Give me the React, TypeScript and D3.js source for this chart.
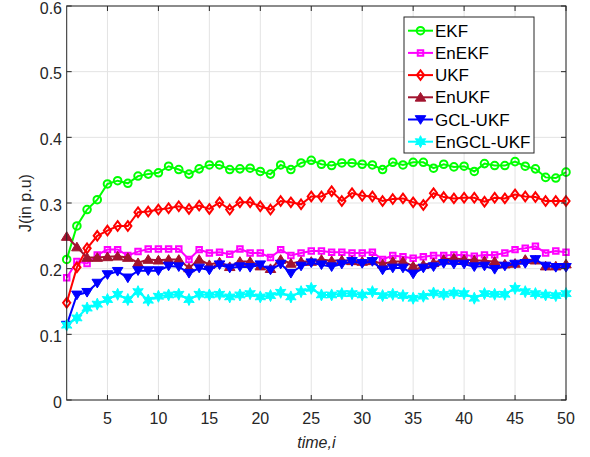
import * as d3 from "d3";

const iterations = d3.range(1, 51);

const ekf = [0.214, 0.265, 0.29, 0.305, 0.329, 0.334, 0.33, 0.341, 0.344, 0.346, 0.356, 0.351, 0.344, 0.352, 0.358, 0.358, 0.351, 0.352, 0.353, 0.348, 0.344, 0.358, 0.351, 0.361, 0.365, 0.359, 0.357, 0.361, 0.361, 0.359, 0.358, 0.351, 0.362, 0.358, 0.362, 0.362, 0.353, 0.359, 0.355, 0.356, 0.348, 0.36, 0.357, 0.357, 0.363, 0.356, 0.352, 0.339, 0.338, 0.347];
const enekf = [0.186, 0.211, 0.208, 0.221, 0.229, 0.229, 0.22, 0.226, 0.23, 0.23, 0.23, 0.23, 0.214, 0.229, 0.224, 0.225, 0.222, 0.23, 0.224, 0.224, 0.217, 0.229, 0.22, 0.224, 0.227, 0.227, 0.225, 0.225, 0.224, 0.224, 0.225, 0.214, 0.22, 0.218, 0.216, 0.218, 0.22, 0.22, 0.221, 0.221, 0.219, 0.221, 0.221, 0.224, 0.229, 0.231, 0.234, 0.224, 0.227, 0.225];
const ukf = [0.148, 0.202, 0.231, 0.25, 0.258, 0.265, 0.265, 0.286, 0.287, 0.29, 0.292, 0.295, 0.291, 0.296, 0.291, 0.301, 0.29, 0.301, 0.301, 0.295, 0.29, 0.303, 0.301, 0.298, 0.31, 0.31, 0.318, 0.303, 0.315, 0.311, 0.31, 0.303, 0.306, 0.307, 0.301, 0.297, 0.315, 0.309, 0.307, 0.308, 0.308, 0.302, 0.308, 0.307, 0.313, 0.31, 0.309, 0.303, 0.303, 0.303];
const enukf = [0.249, 0.233, 0.217, 0.217, 0.218, 0.219, 0.217, 0.209, 0.214, 0.213, 0.214, 0.214, 0.201, 0.214, 0.206, 0.21, 0.203, 0.211, 0.211, 0.204, 0.2, 0.214, 0.208, 0.211, 0.211, 0.214, 0.212, 0.213, 0.212, 0.211, 0.212, 0.207, 0.211, 0.211, 0.204, 0.206, 0.209, 0.214, 0.216, 0.214, 0.213, 0.212, 0.211, 0.207, 0.208, 0.214, 0.213, 0.204, 0.204, 0.207];
const gclUkf = [0.114, 0.16, 0.164, 0.178, 0.191, 0.196, 0.186, 0.197, 0.197, 0.197, 0.204, 0.203, 0.193, 0.201, 0.198, 0.206, 0.201, 0.203, 0.202, 0.206, 0.198, 0.207, 0.193, 0.204, 0.209, 0.206, 0.203, 0.207, 0.211, 0.208, 0.211, 0.198, 0.201, 0.201, 0.192, 0.201, 0.203, 0.208, 0.207, 0.207, 0.203, 0.204, 0.199, 0.204, 0.207, 0.208, 0.214, 0.204, 0.202, 0.202];
const enGclUkf = [0.114, 0.125, 0.14, 0.146, 0.153, 0.161, 0.153, 0.165, 0.152, 0.158, 0.16, 0.161, 0.153, 0.161, 0.16, 0.161, 0.157, 0.16, 0.162, 0.157, 0.159, 0.164, 0.157, 0.165, 0.17, 0.16, 0.16, 0.162, 0.162, 0.16, 0.165, 0.159, 0.161, 0.159, 0.155, 0.158, 0.163, 0.161, 0.163, 0.162, 0.155, 0.162, 0.161, 0.161, 0.17, 0.165, 0.162, 0.16, 0.159, 0.162];

const xTicks = [5, 10, 15, 20, 25, 30, 35, 40, 45, 50];
const yTicks = [0, 0.1, 0.2, 0.3, 0.4, 0.5, 0.6];

// 6-pointed star like matlab's hexagram
const hexagram = {
  draw(ctx: any, size: number) {
    const R = Math.sqrt(size) * 0.75;
    const r = R * 0.5;
    for (let k = 0; k < 12; k++) {
      const a = -Math.PI / 2 + (k * Math.PI) / 6;
      const rr = k % 2 === 0 ? R : r;
      if (k === 0) ctx.moveTo(rr * Math.cos(a), rr * Math.sin(a));
      else ctx.lineTo(rr * Math.cos(a), rr * Math.sin(a));
    }
    ctx.closePath();
  },
};

const triDown = {
  draw(ctx: any, size: number) {
    const h = Math.sqrt(size) * 0.6;
    ctx.moveTo(0, h);
    ctx.lineTo(h * 1.1, -h * 0.8);
    ctx.lineTo(-h * 1.1, -h * 0.8);
    ctx.closePath();
  },
};

const triUp = {
  draw(ctx: any, size: number) {
    const h = Math.sqrt(size) * 0.6;
    ctx.moveTo(0, -h);
    ctx.lineTo(h * 1.1, h * 0.8);
    ctx.lineTo(-h * 1.1, h * 0.8);
    ctx.closePath();
  },
};

const diamond = {
  draw(ctx: any, size: number) {
    const h = Math.sqrt(size) * 0.6;
    ctx.moveTo(0, -h);
    ctx.lineTo(h * 0.75, 0);
    ctx.lineTo(0, h);
    ctx.lineTo(-h * 0.75, 0);
    ctx.closePath();
  },
};

const series = [
  { name: "EKF", values: ekf, color: "#00ff00", symbol: d3.symbolCircle, size: 45, filled: false },
  { name: "EnEKF", values: enekf, color: "#ff00ff", symbol: d3.symbolSquare, size: 30, filled: false },
  { name: "UKF", values: ukf, color: "#ff0000", symbol: diamond, size: 64, filled: false },
  { name: "EnUKF", values: enukf, color: "#a2142f", symbol: triUp, size: 64, filled: true },
  { name: "GCL-UKF", values: gclUkf, color: "#0000ff", symbol: triDown, size: 64, filled: true },
  { name: "EnGCL-UKF", values: enGclUkf, color: "#00ffff", symbol: hexagram, size: 64, filled: true },
];

const W = 590;
const H = 457;
const left = 66.7;
const right = 566;
const top = 6;
const bottom = 400;
const axisColor = "#262626";
const font = "'Liberation Sans', Arial, Helvetica, sans-serif";

export default function App() {
  const x = d3.scaleLinear().domain([1, 50]).range([left, right]);
  const y = d3.scaleLinear().domain([0, 0.6]).range([bottom, top]);
  const line = d3.line<number>().x((_, i) => x(iterations[i])).y((d) => y(d));

  const legendX = 404;
  const legendY = 17;
  const rowH = 22.2;

  return (
    <svg width={W} height={H} style={{ position: "absolute", left: 0, top: 0, background: "#fff" }} fontFamily={font}>
      <rect x={left} y={top} width={right - left} height={bottom - top} fill="#fff" />
      {xTicks.map((t) => (
        <line key={"gx" + t} x1={x(t)} x2={x(t)} y1={top} y2={bottom} stroke="#e3e3e3" strokeWidth={1} />
      ))}
      {yTicks.map((t) => (
        <line key={"gy" + t} x1={left} x2={right} y1={y(t)} y2={y(t)} stroke="#e3e3e3" strokeWidth={1} />
      ))}

      {series.map((s) => (
        <g key={s.name}>
          <path d={line(s.values) ?? ""} fill="none" stroke={s.color} strokeWidth={2} />
          {s.values.map((v, i) => (
            <path
              key={i}
              transform={`translate(${x(iterations[i])},${y(v)})`}
              d={d3.symbol(s.symbol as any, s.size)() ?? ""}
              fill={s.filled ? s.color : "none"}
              stroke={s.color}
              strokeWidth={s.filled ? 1 : 2}
            />
          ))}
        </g>
      ))}

      {/* frame + ticks */}
      <rect x={left} y={top} width={right - left} height={bottom - top} fill="none" stroke={axisColor} strokeWidth={1} />
      {xTicks.map((t) => (
        <g key={"tx" + t}>
          <line x1={x(t)} x2={x(t)} y1={bottom} y2={bottom - 5} stroke={axisColor} />
          <line x1={x(t)} x2={x(t)} y1={top} y2={top + 5} stroke={axisColor} />
          <text x={x(t)} y={424} textAnchor="middle" fontSize={16} fill={axisColor}>
            {t}
          </text>
        </g>
      ))}
      {yTicks.map((t) => (
        <g key={"ty" + t}>
          <line x1={left} x2={left + 5} y1={y(t)} y2={y(t)} stroke={axisColor} />
          <line x1={right} x2={right - 5} y1={y(t)} y2={y(t)} stroke={axisColor} />
          <text x={62} y={y(t) + 7.5} textAnchor="end" fontSize={16} fill={axisColor}>
            {t === 0 ? "0" : t.toFixed(1)}
          </text>
        </g>
      ))}

      <text x={(left + right) / 2} y={448} textAnchor="middle" fontSize={16} fontStyle="italic" fill={axisColor}>
        time,i
      </text>
      <text
        transform={`translate(31,${(top + bottom) / 2}) rotate(-90)`}
        textAnchor="middle"
        fontSize={16}
        fill={axisColor}
      >
        J(in p.u)
      </text>

      {/* legend */}
      <rect x={legendX} y={legendY} width={130} height={136} fill="#fff" stroke={axisColor} strokeWidth={1} />
      {series.map((s, k) => {
        const cy = legendY + 13.7 + k * rowH;
        return (
          <g key={"lg" + s.name}>
            <line x1={408} x2={433} y1={cy} y2={cy} stroke={s.color} strokeWidth={2} />
            <path
              transform={`translate(420.5,${cy})`}
              d={d3.symbol(s.symbol as any, s.size)() ?? ""}
              fill={s.filled ? s.color : "none"}
              stroke={s.color}
              strokeWidth={s.filled ? 1 : 2}
            />
            <text x={435} y={cy + 6} fontSize={17} fill="#000">
              {s.name}
            </text>
          </g>
        );
      })}
    </svg>
  );
}
